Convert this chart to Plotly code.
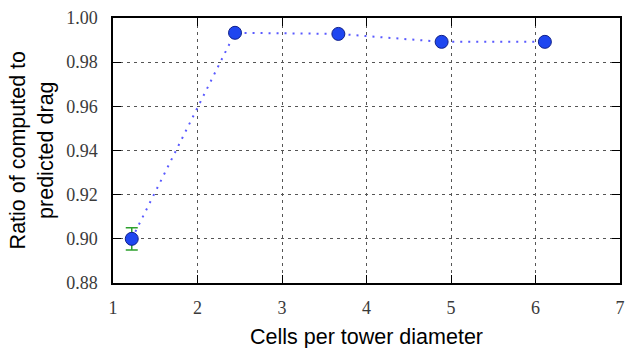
import plotly.graph_objects as go

cells = [1.222, 2.444, 3.667, 4.889, 6.111]
ratio = [0.900, 0.9933, 0.9928, 0.9892, 0.9892]
err = [0.005, 0.0, 0.0, 0.0, 0.0]

x_ticks = [1, 2, 3, 4, 5, 6, 7]
y_ticks = [0.88, 0.90, 0.92, 0.94, 0.96, 0.98, 1.00]
y_tick_text = ["%.2f" % v for v in y_ticks]

TICK_FONT = dict(family="Liberation Serif", size=18, color="#3a3a3a")

fig = go.Figure()
fig.add_trace(go.Scatter(
    x=cells, y=ratio,
    mode="lines+markers",
    line=dict(color="#5a5aff", width=2, dash="2px,6px"),
    marker=dict(size=13, color="#1e46f0", line=dict(color="#10208a", width=1)),
    error_y=dict(type="data", array=err, visible=True, color="#2ca02c",
                 thickness=1.5, width=6),
    showlegend=False,
    cliponaxis=False,
))

axis_common = dict(
    showline=True, linecolor="black", linewidth=1.5, mirror="allticks",
    ticks="inside", ticklen=8, tickcolor="black", tickwidth=1,
    showgrid=True, gridcolor="#555555", griddash="3px,4px", gridwidth=1,
    zeroline=False, ticklabeloverflow="allow",
)

fig.update_xaxes(range=[1, 7], tickvals=x_ticks, ticklabelstandoff=8,
                 tickfont=TICK_FONT, **axis_common)
fig.update_yaxes(range=[0.88, 1.00], tickvals=y_ticks, ticktext=y_tick_text,
                 ticklabelstandoff=10, tickfont=TICK_FONT, **axis_common)

fig.add_annotation(text="Cells per tower diameter", xref="paper", yref="paper",
                   x=0.5, y=-0.205, yanchor="middle", showarrow=False,
                   font=dict(family="Liberation Sans", size=21.5, color="black"))
fig.add_annotation(text="Ratio of computed to<br>predicted drag", xref="paper", yref="paper",
                   x=-0.160, y=0.5, textangle=-90, xanchor="center", yanchor="middle",
                   showarrow=False,
                   font=dict(family="Liberation Sans", size=21.5, color="black"))

fig.update_layout(
    width=628, height=348,
    margin=dict(l=113, r=3, t=18, b=65),
    paper_bgcolor="white", plot_bgcolor="white",
)

# remove the default 8px body margin so the figure fills the window exactly
fig.write_html("out.html", config={"displayModeBar": False},
               post_script="document.body.style.margin='0';document.body.style.overflow='hidden';")
